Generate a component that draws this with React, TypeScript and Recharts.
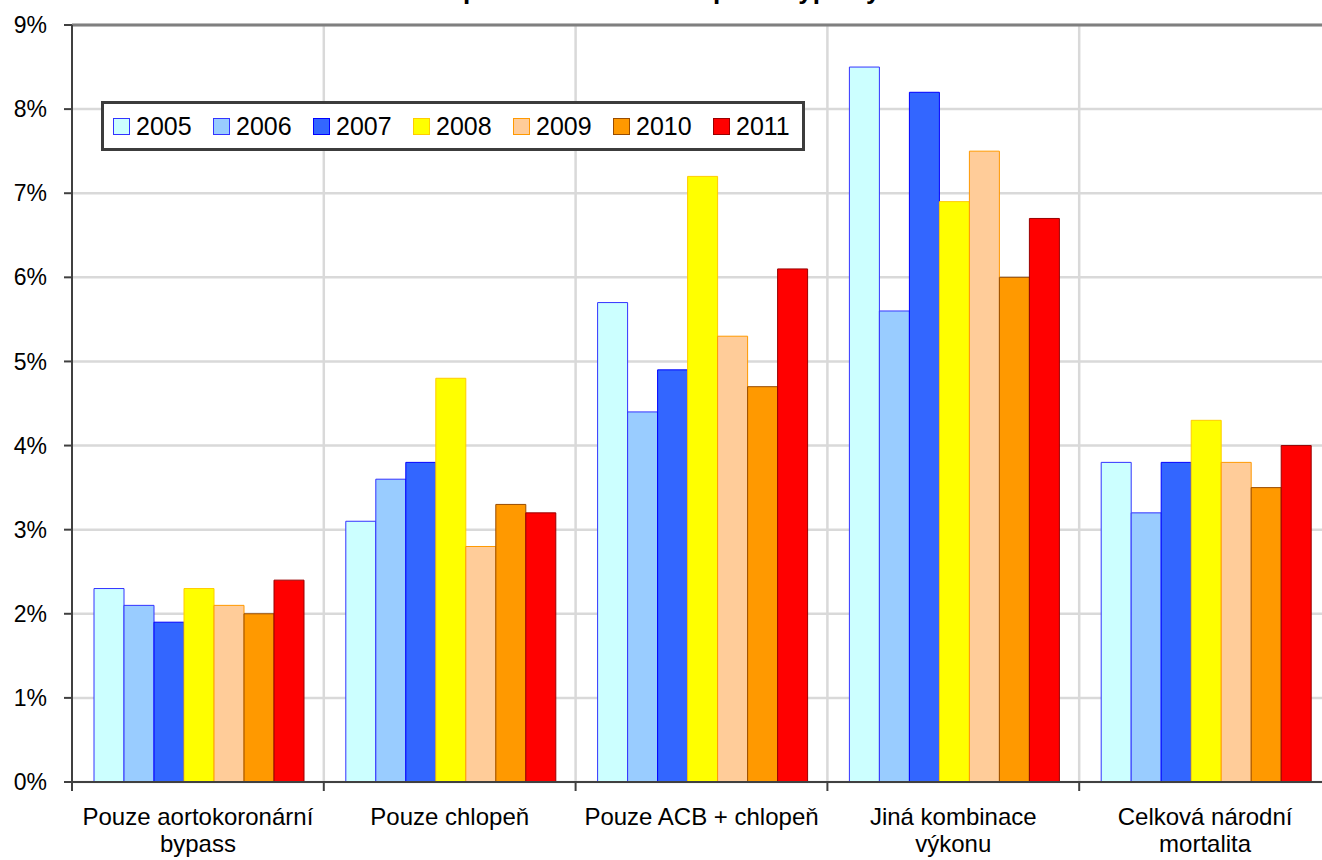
import {
  Bar,
  BarChart,
  CartesianGrid,
  Legend,
  ReferenceLine,
  XAxis,
  YAxis,
} from "recharts";

const categories = [
  "Pouze aortokoronární bypass",
  "Pouze chlopeň",
  "Pouze ACB + chlopeň",
  "Jiná kombinace výkonu",
  "Celková národní mortalita",
];
const years = ["2005", "2006", "2007", "2008", "2009", "2010", "2011"];

const v2005 = [2.3, 3.1, 5.7, 8.5, 3.8];
const v2006 = [2.1, 3.6, 4.4, 5.6, 3.2];
const v2007 = [1.9, 3.8, 4.9, 8.2, 3.8];
const v2008 = [2.3, 4.8, 7.2, 6.9, 4.3];
const v2009 = [2.1, 2.8, 5.3, 7.5, 3.8];
const v2010 = [2.0, 3.3, 4.7, 6.0, 3.5];
const v2011 = [2.4, 3.2, 6.1, 6.7, 4.0];
const series = [v2005, v2006, v2007, v2008, v2009, v2010, v2011];

const yTicks = [0, 1, 2, 3, 4, 5, 6, 7, 8, 9];

const fills = ["#CCFFFF", "#99CCFF", "#3366FF", "#FFFF00", "#FFCC99", "#FF9900", "#FF0000"];
const strokes = ["#3333FF", "#3333FF", "#0000FF", "#FFCC00", "#FF9900", "#994C00", "#990000"];

const data = categories.map((name, i) => {
  const row: Record<string, string | number> = { name };
  years.forEach((yr, j) => {
    row[yr] = series[j][i];
  });
  return row;
});

const FONT = "'Liberation Sans', Arial, sans-serif";
const CHART_W = 1340;
const CHART_H = 860;
const Y_AXIS_W = 72;
const MARGIN = { top: 25, right: 9, left: 0, bottom: 0 };
const BAND = (CHART_W - MARGIN.left - MARGIN.right - Y_AXIS_W) / categories.length;

// greedy word wrap, about 20 characters a line (like the Excel labels)
function wrap(label: string, max = 20) {
  const lines: string[] = [];
  let cur = "";
  label.split(" ").forEach((w) => {
    const next = cur ? cur + " " + w : w;
    if (next.length > max && cur) {
      lines.push(cur);
      cur = w;
    } else {
      cur = next;
    }
  });
  if (cur) lines.push(cur);
  return lines;
}

function CategoryTick(props: any) {
  const { x, y, payload } = props;
  const left = x - BAND / 2;
  const lines = wrap(String(payload.value));
  return (
    <g>
      <line x1={left} x2={left} y1={y - 26} y2={y - 17} stroke="#404040" strokeWidth={2} />
      <text x={x} y={y + 17} textAnchor="middle" fontSize={24} fontFamily={FONT} fill="#000">
        {lines.map((ln, i) => (
          <tspan key={i} x={x} dy={i === 0 ? 0 : 27}>
            {ln}
          </tspan>
        ))}
      </text>
    </g>
  );
}

function LegendBox() {
  return (
    <div
      style={{
        border: "3px solid #3c3c3c",
        background: "#fff",
        width: 704,
        height: 50,
        boxSizing: "border-box",
        display: "flex",
        alignItems: "center",
        paddingLeft: 9,
        fontFamily: FONT,
      }}
    >
      {years.map((yr, i) => (
        <div
          key={yr}
          style={{
            display: "flex",
            alignItems: "center",
            width: i < years.length - 1 ? 100 : "auto",
            flexShrink: 0,
          }}
        >
          <span
            style={{
              display: "inline-block",
              width: 15,
              height: 15,
              background: fills[i],
              border: `1px solid ${strokes[i]}`,
              marginRight: 6,
            }}
          />
          <span style={{ fontSize: 25, lineHeight: "25px", color: "#000" }}>{yr}</span>
        </div>
      ))}
    </div>
  );
}

export default function App() {
  return (
    <div
      style={{
        position: "absolute",
        left: 0,
        top: 0,
        width: 1322,
        height: 860,
        overflow: "hidden",
        background: "#fff",
        fontFamily: FONT,
      }}
    >
      <div
        style={{
          position: "absolute",
          left: 0,
          top: -23,
          width: 1290,
          textAlign: "center",
          fontSize: 26,
          lineHeight: "26px",
          fontWeight: "bold",
          zIndex: 2,
        }}
      >
        Mortalita pacientů 2005–2011 podle typu výkonu
      </div>
      <BarChart
        width={CHART_W}
        height={CHART_H}
        data={data}
        margin={MARGIN}
        barCategoryGap={22}
        barGap={0}
      >
        <CartesianGrid
          stroke="#d9d9d9"
          strokeWidth={2.5}
          verticalCoordinatesGenerator={({ offset }: any) =>
            [1, 2, 3, 4, 5].map((i) => offset.left + (i * offset.width) / categories.length)
          }
        />
        <XAxis
          dataKey="name"
          height={78}
          tickLine={false}
          tickSize={0}
          tickMargin={26}
          axisLine={{ stroke: "#404040", strokeWidth: 2 }}
          tick={<CategoryTick />}
          interval={0}
        />
        <YAxis
          width={Y_AXIS_W}
          domain={[0, 9]}
          ticks={yTicks}
          tickFormatter={(v: number) => `${v}%`}
          tickSize={8}
          tickMargin={17}
          tickLine={{ stroke: "#404040", strokeWidth: 2 }}
          axisLine={{ stroke: "#404040", strokeWidth: 2 }}
          tick={{ fontSize: 23, fill: "#000", fontFamily: FONT }}
        />
        <ReferenceLine y={9} stroke="#7f7f7f" strokeWidth={3} />
        <Legend
          layout="horizontal"
          verticalAlign="middle"
          align="center"
          content={<LegendBox />}
          wrapperStyle={{ left: 101, top: 101, width: "auto", height: "auto" }}
        />
        {years.map((yr, i) => (
          <Bar
            key={yr}
            dataKey={yr}
            fill={fills[i]}
            stroke={strokes[i]}
            strokeWidth={1}
            isAnimationActive={false}
          />
        ))}
      </BarChart>
    </div>
  );
}
